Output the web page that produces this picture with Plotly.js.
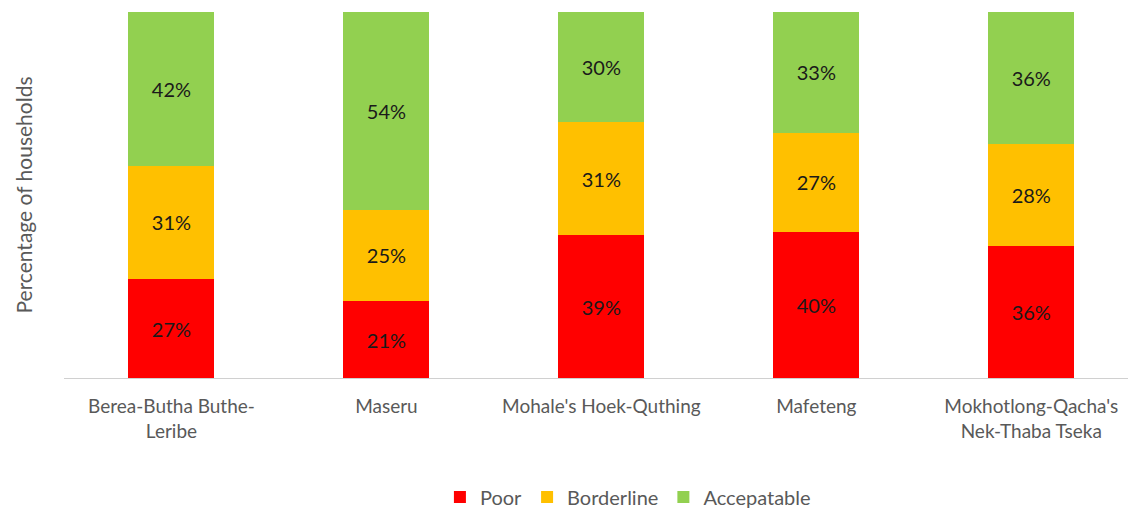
<!DOCTYPE html>
<html><head><meta charset="utf-8">
<script src="https://cdn.plot.ly/plotly-3.0.1.min.js"></script>
<style>body{margin:0;background:#fff}#chart{width:1128px;height:508px}</style>
</head><body><div id="chart"></div>
<script>
const categories = ["Berea-Butha Buthe-Leribe", "Maseru", "Mohale's Hoek-Quthing", "Mafeteng", "Mokhotlong-Qacha's Nek-Thaba Tseka"];
const tickLabels = ["Berea-Butha Buthe-<br>Leribe", "Maseru", "Mohale's Hoek-Quthing", "Mafeteng", "Mokhotlong-Qacha's<br>Nek-Thaba Tseka"];
const poor = [27, 21, 39, 40, 36];
const borderline = [31, 25, 31, 27, 28];
const acceptable = [42, 54, 30, 33, 36];

const font = "Lato, 'Open Sans', sans-serif";
function tr(name, y, color) {
  return {type: 'bar', name: name, x: categories, y: y,
    marker: {color: color},
    texttemplate: '%{y}%', textposition: 'inside', insidetextanchor: 'middle',
    textfont: {family: font, size: 20, color: '#1a1a1a'}, constraintext: 'none',
    hoverinfo: 'skip'};
}
const data = [tr('Poor', poor, '#FF0000'), tr('Borderline', borderline, '#FFC000'), tr('Accepatable', acceptable, '#92D050')];
const layout = {
  width: 1128, height: 508, barmode: 'stack', bargap: 0.6,
  margin: {l: 64, r: 0, t: 12, b: 130, autoexpand: false},
  paper_bgcolor: '#fff', plot_bgcolor: '#fff',
  font: {family: font, color: '#595959'},
  xaxis: {type: 'category', categoryarray: categories, tickvals: categories, ticktext: tickLabels,
    range: [-0.5, 4.45], showline: true, linecolor: '#d0d0d0', linewidth: 1, ticks: '', automargin: false,
    tickfont: {family: font, size: 19, color: '#595959'}, ticklabelstandoff: 11, showgrid: false, zeroline: false},
  yaxis: {range: [0, 100], showticklabels: false, showgrid: false, zeroline: false, showline: false, automargin: false,
    title: {text: 'Percentage of households', font: {family: font, size: 21, color: '#595959'}, standoff: 24}},
  showlegend: true,
  legend: {orientation: 'h', x: 0.53, xanchor: 'center', y: -0.325, yanchor: 'middle',
    font: {family: font, size: 20, color: '#595959'}, traceorder: 'normal', itemwidth: 30},
};
Plotly.newPlot('chart', data, layout, {displayModeBar: false, staticPlot: true});
</script></body></html>
